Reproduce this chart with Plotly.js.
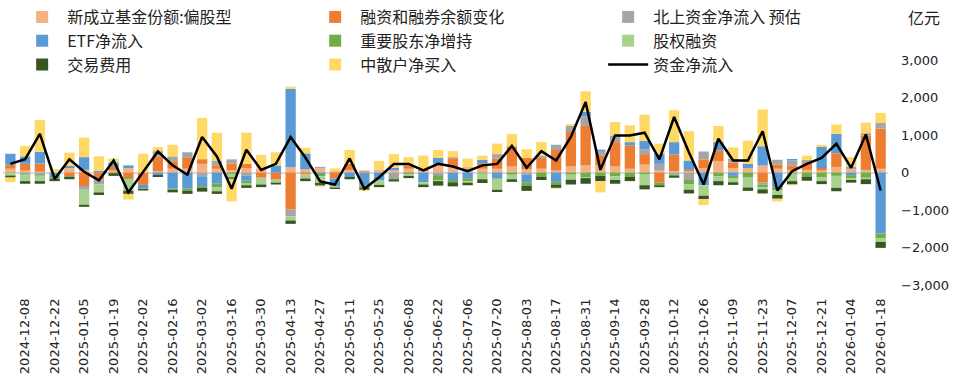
<!DOCTYPE html>
<html><head><meta charset="utf-8">
<script src="https://cdn.plot.ly/plotly-3.0.1.min.js"></script>
<style>html,body{margin:0;padding:0;background:#fff}#chart{width:956px;height:383px}</style>
</head><body><div id="chart"></div>
<script>
const dates = ["2024-12-01","2024-12-08","2024-12-15","2024-12-22","2024-12-29",
"2025-01-05","2025-01-12","2025-01-19","2025-01-26","2025-02-02","2025-02-09","2025-02-16","2025-02-23",
"2025-03-02","2025-03-09","2025-03-16","2025-03-23","2025-03-30","2025-04-06","2025-04-13","2025-04-20","2025-04-27",
"2025-05-04","2025-05-11","2025-05-18","2025-05-25","2025-06-01","2025-06-08","2025-06-15","2025-06-22","2025-06-29",
"2025-07-06","2025-07-13","2025-07-20","2025-07-27","2025-08-03","2025-08-10","2025-08-17","2025-08-24","2025-08-31",
"2025-09-07","2025-09-14","2025-09-21","2025-09-28","2025-10-05","2025-10-12","2025-10-19","2025-10-26",
"2025-11-02","2025-11-09","2025-11-16","2025-11-23","2025-11-30","2025-12-07","2025-12-14","2025-12-21","2025-12-28",
"2026-01-04","2026-01-11","2026-01-18"];
const tickLabels = ["2024-12-08","2024-12-22","2025-01-05","2025-01-19","2025-02-02","2025-02-16","2025-03-02","2025-03-16",
"2025-03-30","2025-04-13","2025-04-27","2025-05-11","2025-05-25","2025-06-08","2025-06-22","2025-07-06","2025-07-20",
"2025-08-03","2025-08-17","2025-08-31","2025-09-14","2025-09-28","2025-10-12","2025-10-26","2025-11-09","2025-11-23",
"2025-12-07","2025-12-21","2026-01-04","2026-01-18"];

const newFunds = [100,50,20,0,120,70,0,50,120,0,40,100,100,230,100,60,120,100,0,140,90,120,50,60,20,80,60,100,40,230,
140,120,100,100,160,90,100,50,160,190,190,160,100,210,50,35,30,120,300,120,120,190,100,70,70,50,140,90,70,100];
const margin = [110,180,220,0,-100,-360,-180,100,-150,-330,380,200,290,125,90,180,110,-140,-190,-990,-50,0,-160,170,30,0,0,90,40,0,
240,0,150,270,540,300,290,550,920,1070,270,650,620,280,-270,445,40,230,290,150,0,-260,110,120,180,70,370,0,920,1070];
const northbound = [0,-50,-70,0,0,-100,-140,0,0,0,150,130,150,-100,130,110,-90,0,0,-180,0,30,0,0,0,0,-150,0,0,-70,
30,20,0,120,0,-50,60,140,170,240,115,180,0,130,180,-50,-200,210,0,90,0,-60,130,130,90,0,0,70,60,150];
const etf = [290,200,310,-120,60,340,40,120,70,-90,-60,-430,-430,-260,-300,0,-130,0,190,2090,420,-40,-200,-120,-350,-200,70,0,-260,160,
-200,-150,90,-160,0,-210,0,-250,0,115,35,0,90,220,270,330,250,-340,220,-90,110,510,-410,40,0,570,520,-70,0,-1630];
const holders = [-20,-20,-20,-50,-10,0,0,-20,-40,-20,0,-30,-60,-50,-100,-50,-60,0,0,0,0,-60,0,0,-60,0,-30,-50,0,-140,
-60,-80,-30,-30,-60,-90,-110,-70,-60,-120,-90,-100,-120,-40,-70,-30,-120,0,-100,-70,-120,-70,-60,-30,-120,-120,-90,-80,-140,-130];
const equityFin = [-60,-160,-140,0,0,-400,-210,0,-300,0,0,0,0,0,-100,-80,-60,-180,-80,-110,-110,-180,-40,0,0,-130,0,-40,-60,-20,
0,-40,-150,-270,-120,0,0,0,-130,-30,0,-100,0,-300,0,0,-140,-280,-130,-100,-280,-60,-130,-200,0,-110,-320,-50,-40,-90];
const fees = [-55,-70,-70,-60,-70,-55,-70,-70,-80,-40,-60,-70,-80,-100,-70,-40,-70,-70,-50,-90,-70,-70,-40,-60,-50,-60,-60,-60,-70,-120,
-110,-70,-100,-60,-70,-140,-90,-90,-130,-150,-140,-100,-110,-110,-50,-60,-100,-90,-110,-70,-90,-110,-100,-90,-100,-80,-90,-70,-130,-160];
const retail = [-120,280,850,90,350,520,390,100,-150,500,110,310,0,1100,740,-600,830,370,350,60,150,-30,60,370,-30,230,360,220,370,210,
160,230,110,280,330,230,360,-20,40,550,-300,355,450,700,270,850,780,-160,430,310,620,980,-70,-20,110,50,250,250,280,270];
const netFlow = [230,355,1030,-170,355,20,-210,320,-530,0,560,190,-60,945,430,-435,605,70,230,945,400,-240,-320,375,-435,-125,230,230,55,230,
160,35,190,230,710,125,570,320,950,1880,70,990,990,1060,350,1480,540,-320,900,320,320,1100,-480,35,230,390,765,125,1015,-480];

const barSeries = [
  {name:"新成立基金份额:偏股型", y:newFunds, color:"#F4B183"},
  {name:"融资和融券余额变化", y:margin, color:"#ED7D31"},
  {name:"北上资金净流入 预估", y:northbound, color:"#A5A5A5"},
  {name:"ETF净流入", y:etf, color:"#5B9BD5"},
  {name:"重要股东净增持", y:holders, color:"#70AD47"},
  {name:"股权融资", y:equityFin, color:"#A9D18E"},
  {name:"交易费用", y:fees, color:"#375623"},
  {name:"中散户净买入", y:retail, color:"#FFD966"}
];
const traces = barSeries.map(s => ({type:"bar", name:s.name, x:dates, y:s.y,
  marker:{color:s.color, line:{width:0}}, hoverinfo:"x+y+name"}));
traces.push({type:"scatter", mode:"lines", name:"资金净流入", x:dates, y:netFlow,
  line:{color:"#000000", width:2.5}});

const layout = {
  width:956, height:383,
  margin:{l:3, r:68, t:60, b:98, autoexpand:false},
  paper_bgcolor:"#ffffff", plot_bgcolor:"#ffffff",
  barmode:"relative", bargap:0.3,
  font:{family:"DejaVu Sans, sans-serif", size:13, color:"#222"},
  showlegend:true,
  legend:{orientation:"h", x:0.016, xanchor:"left", yref:"container", y:1.0, yanchor:"top",
    entrywidth:238, entrywidthmode:"pixels", traceorder:"normal",
    font:{family:"Noto Sans CJK SC, sans-serif", size:16, color:"#222"},
    itemwidth:40, tracegroupgap:0, bgcolor:"rgba(0,0,0,0)"},
  xaxis:{type:"category", tickmode:"array", tickvals:tickLabels, ticktext:tickLabels,
    tickangle:-90, ticks:"", showline:false, showgrid:false, zeroline:false,
    ticklabelstandoff:10, tickfont:{family:"DejaVu Sans, sans-serif", size:13, color:"#222"}},
  xaxis2:{overlaying:"x", anchor:"free", position:0.5, type:"linear", range:[-0.5, 59.5],
    showline:true, linecolor:"#d9d9d9", linewidth:2, ticks:"outside", ticklen:4, tickcolor:"#d9d9d9",
    tickwidth:1, tickmode:"linear", tick0:-0.5, dtick:1, showticklabels:false, showgrid:false, zeroline:false},
  yaxis:{side:"right", range:[-3000,3000], tickvals:[-3000,-2000,-1000,0,1000,2000,3000],
    tickformat:",d", showgrid:false, zeroline:true, zerolinecolor:"#d9d9d9", zerolinewidth:2,
    ticks:"", showline:false, ticklabelstandoff:12,
    tickfont:{family:"DejaVu Sans, sans-serif", size:13, color:"#222"}},
  annotations:[{text:"亿元", xref:"paper", yref:"paper", x:1.02, y:1.19, xanchor:"left", yanchor:"middle",
    showarrow:false, font:{family:"Noto Sans CJK SC, sans-serif", size:16, color:"#222"}}]
};
Plotly.newPlot("chart", traces, layout, {displayModeBar:false, staticPlot:true});
</script></body></html>
